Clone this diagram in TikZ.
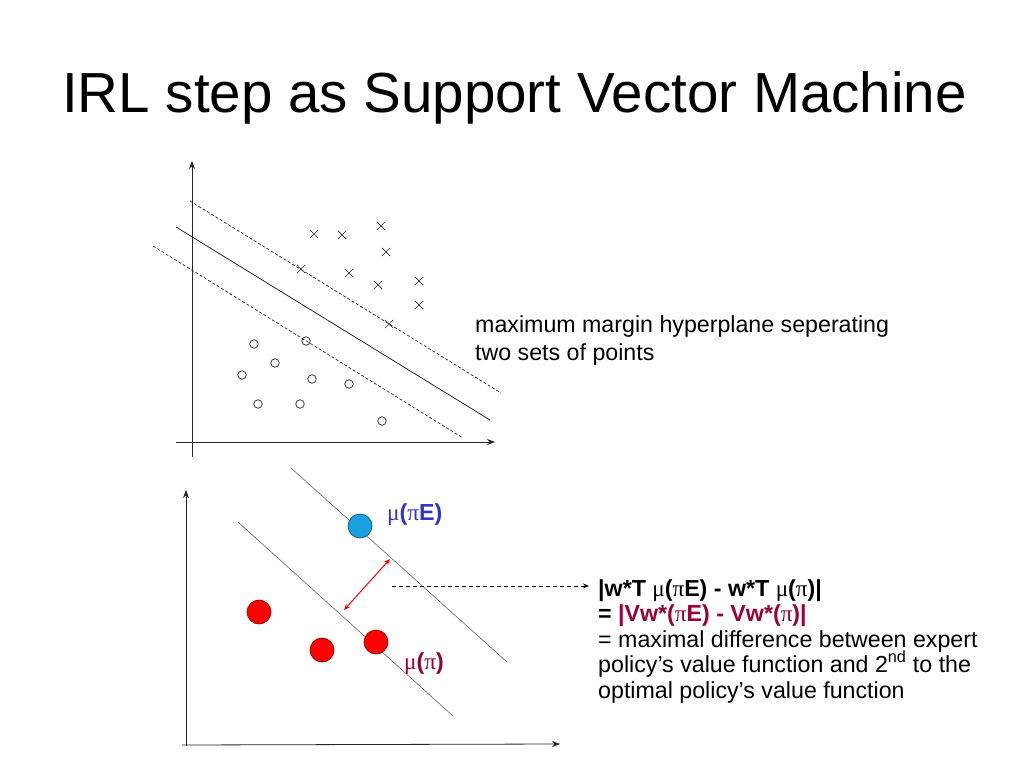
\documentclass[tikz,border=0pt]{standalone}
\usepackage{fontspec}
\setmainfont{Liberation Sans}
\newfontfamily\grk{Liberation Serif}
\usetikzlibrary{arrows.meta,shapes.misc}
\definecolor{mublue}{HTML}{3333CC}
\definecolor{mured}{HTML}{990033}
\definecolor{ptblue}{HTML}{1BA1E2}
\definecolor{ptred}{HTML}{FF0000}
\newcommand{\gm}{{\grk\mdseries μ}}
\newcommand{\gp}{{\grk\mdseries π}}
\tikzset{
  axisline/.style={draw=black!85, line width=0.8pt, -{Stealth[length=8pt,width=6pt]}},
  svmline/.style={draw=black!85, line width=0.8pt},
  marginline/.style={draw=black!85, line width=0.7pt, dash pattern=on 3pt off 2pt},
  planeline/.style={draw=black!60, line width=0.6pt},
  xmark/.style={cross out, draw=black!85, line width=0.7pt, minimum size=7.5pt, inner sep=0pt},
  omark/.style={circle, draw=black!85, line width=0.7pt, minimum size=8.5pt, inner sep=0pt},
  bigdot/.style={circle, draw=#1!55!black, fill=#1, line width=0.7pt, minimum size=24pt, inner sep=0pt},
  bodytext/.style={anchor=base west, inner sep=0pt, font=\fontsize{23.2}{27}\selectfont},
}
\begin{document}
\begin{tikzpicture}[x=1pt,y=-1pt]
\useasboundingbox (0,0) rectangle (1023,767);
\fill[white] (0,0) rectangle (1023,767);
% title
\node[anchor=base west, inner sep=0pt, font=\fontsize{56.5}{60}\selectfont] (title) at (62,113) {IRL step as Support Vector Machine};

% ---- top plot
\coordinate (ty0) at (192,457);
\coordinate (ty1) at (192,161);
\coordinate (tx0) at (176,442);
\coordinate (tx1) at (495,442);
\draw[axisline] (ty0) -- (ty1);
\draw[axisline] (tx0) -- (tx1);
\coordinate (s0) at (176,227);
\coordinate (s1) at (490,420);
\draw[svmline] (s0) -- (s1);
\coordinate (u0) at (190,201);
\coordinate (u1) at (501,393);
\draw[marginline] (u0) -- (u1);
\coordinate (l0) at (153,246);
\coordinate (l1) at (463,438);
\draw[marginline] (l0) -- (l1);
\foreach \p [count=\i] in {(314,234),(342,235),(381,226),(386,252),(301,269),(349,273),(378,285),(419,281),(419,305),(389,324)}
  \node[xmark] (x\i) at \p {};
\foreach \p [count=\i] in {(254,344),(306,341),(275,363),(242,375),(312,379),(349,384),(258,404),(300,404),(382,421)}
  \node[omark] (o\i) at \p {};
\node[bodytext] (cap1) at (475,333) {maximum margin hyperplane seperating};
\node[bodytext] (cap2) at (475,360) {two sets of points};

% ---- bottom plot
\coordinate (by0) at (186,746);
\coordinate (by1) at (186,490);
\coordinate (bx0) at (182,745);
\coordinate (bx1) at (560,744);
\draw[axisline] (by0) -- (by1);
\draw[axisline] (bx0) -- (bx1);
\coordinate (p0) at (291,468);
\coordinate (p1) at (507,662);
\draw[planeline] (p0) -- (p1);
\coordinate (q0) at (238,522);
\coordinate (q1) at (453,716);
\draw[planeline] (q0) -- (q1);
\node[bigdot=ptblue] (muE) at (360,526) {};
\node[bigdot=ptred] (r1) at (259,612) {};
\node[bigdot=ptred] (r2) at (322,650) {};
\node[bigdot=ptred] (r3) at (376,642) {};
\coordinate (ra) at (390,559);
\coordinate (rb) at (344,610);
\draw[red, line width=1pt, {Stealth[length=6pt,width=5pt]}-{Stealth[length=6pt,width=5pt]}] (ra) -- (rb);
\node[anchor=base west, inner sep=0pt, text=mublue, font=\fontsize{23.2}{27}\selectfont\bfseries] (lmuE) at (387,520) {\gm(\gp E)};
\node[anchor=base west, inner sep=0pt, text=mured, font=\fontsize{23.2}{27}\selectfont\bfseries] (lmu) at (404,669) {\gm(\gp)};

\coordinate (da) at (392,586);
\node[bodytext, font=\fontsize{23.2}{27}\selectfont\bfseries] (t1) at (598,596) {|w*T \gm(\gp E) - w*T \gm(\gp)|};
\coordinate (db) at (589,586);
\draw[black, line width=0.8pt, dash pattern=on 4pt off 3pt, -{Stealth[length=6pt,width=5pt]}] (da) -- (db);
\node[bodytext, font=\fontsize{23.2}{27}\selectfont\bfseries] (t2) at (598,621) {= \textcolor{mured}{|Vw*(\gp E) - Vw*(\gp)|}};
\node[bodytext] (t3) at (598,647) {= maximal difference between expert};
\node[bodytext] (t4) at (598,672) {policy’s value function and 2\textsuperscript{nd} to the};
\node[bodytext] (t5) at (598,698) {optimal policy’s value function};
\end{tikzpicture}
\end{document}
